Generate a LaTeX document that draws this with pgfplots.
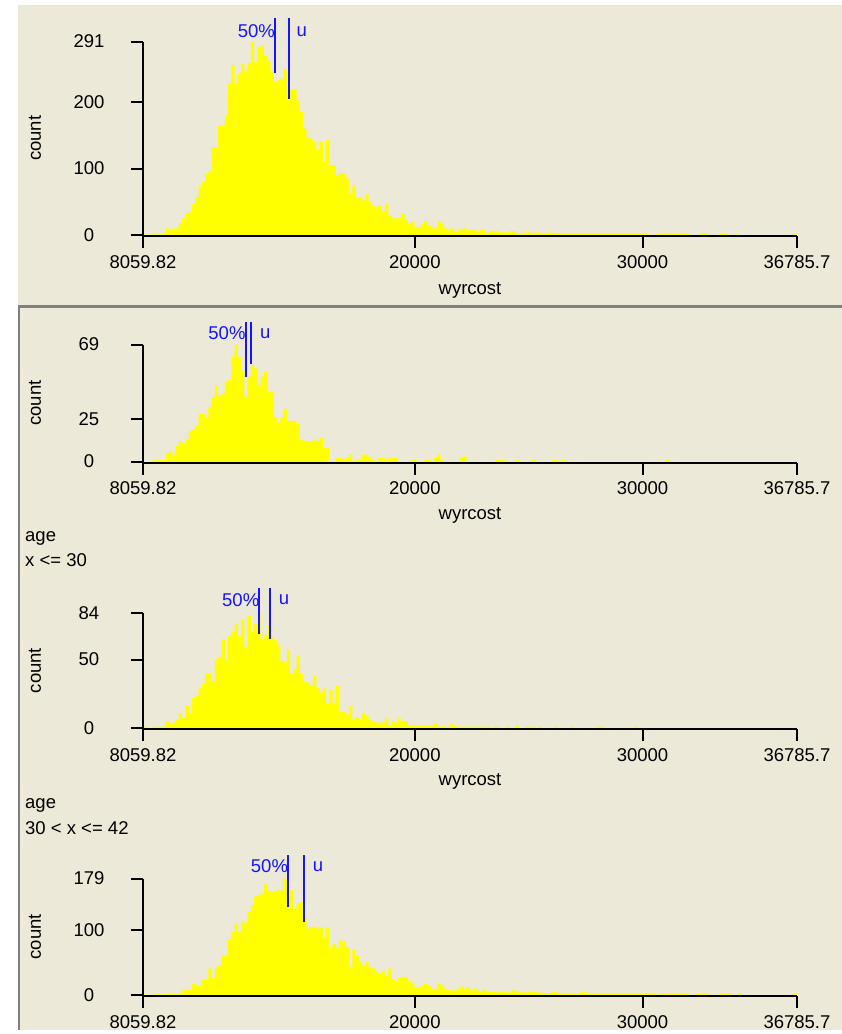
\documentclass[border=0pt]{standalone}
\usepackage{fontspec}
\setmainfont{Liberation Sans}
\usepackage{pgfplots}
\usepackage{pgfplotstable}
\pgfplotsset{compat=1.18}
\definecolor{bg}{RGB}{236,233,216}
\definecolor{sep}{RGB}{128,128,128}
\definecolor{bar}{RGB}{255,255,0}
\definecolor{medblue}{RGB}{20,20,255}
\newcommand{\fs}{\fontsize{18.5}{22}\selectfont}

% bins of width 143.63 from 8059.82 to 36785.7; columns: all (a), first group (b), age<=30 (c), 30<age<=42 (d)
\pgfplotstableread{
i a b c d
0 1 0 1 1
1 0 0 0 0
2 1 0 0 0
3 1 1 1 1
4 1 1 1 2
5 2 1 1 1
6 2 1 1 1
7 10 5 5 2
8 8 6 3 2
9 10 4 4 2
10 10 9 6 2
11 18 12 11 2
12 25 11 7 7
13 33 13 16 8
14 35 18 11 8
15 47 19 22 18
16 57 21 24 14
17 73 28 29 14
18 80 28 32 23
19 92 26 40 23
20 96 32 40 41
21 132 38 34 26
22 132 45 50 43
23 165 39 52 46
24 165 40 65 61
25 180 47 49 61
26 228 48 67 85
27 256 62 70 97
28 227 69 76 110
29 242 61 67 97
30 257 53 79 114
31 247 38 59 111
32 259 50 82 128
33 291 57 70 138
34 260 55 76 151
35 282 45 84 153
36 285 50 65 157
37 270 53 68 170
38 262 41 75 160
39 247 41 67 159
40 230 26 64 159
41 233 23 61 162
42 235 26 49 160
43 250 31 48 179
44 203 24 57 151
45 219 24 40 162
46 219 24 43 133
47 202 22 53 141
48 185 13 40 143
49 160 12 34 120
50 147 12 33 102
51 145 12 31 104
52 140 13 38 105
53 128 12 29 102
54 140 14 26 104
55 110 8 29 88
56 143 8 18 104
57 105 0 28 74
58 105 0 18 78
59 90 2 31 73
60 93 2 12 84
61 92 1 12 82
62 85 2 10 74
63 62 4 16 43
64 75 0 6 70
65 57 1 8 60
66 57 1 6 51
67 52 4 11 46
68 61 4 9 51
69 50 2 6 43
70 45 1 5 41
71 42 0 4 37
72 45 2 4 33
73 35 2 4 37
74 47 1 7 29
75 30 2 2 41
76 25 2 5 23
77 25 2 4 20
78 27 0 7 26
79 32 0 5 28
80 23 0 5 28
81 18 0 2 22
82 21 1 2 18
83 12 1 2 12
84 12 0 2 12
85 17 0 2 14
86 21 1 2 18
87 15 1 2 14
88 12 0 2 9
89 10 2 3 10
90 21 4 1 18
91 17 1 2 15
92 10 0 1 10
93 7 0 1 8
94 10 0 3 7
95 6 0 2 7
96 7 0 1 8
97 8 2 1 13
98 10 3 1 10
99 7 0 1 12
100 8 0 1 7
101 8 0 1 10
102 5 0 1 7
103 8 0 1 5
104 7 0 1 8
105 3 0 1 5
106 6 0 0 5
107 6 0 1 5
108 6 1 1 4
109 4 1 0 5
110 4 1 0 5
111 4 0 1 4
112 6 0 0 4
113 6 0 0 8
114 3 1 2 6
115 3 0 0 4
116 3 0 0 4
117 4 0 1 4
118 4 0 1 5
119 3 1 1 5
120 4 0 0 4
121 3 0 1 4
122 3 0 0 3
123 3 0 0 3
124 4 0 0 3
125 3 1 0 5
126 3 1 1 4
127 3 0 0 3
128 3 1 0 3
129 3 0 0 3
130 3 0 0 3
131 3 0 1 3
132 3 0 0 3
133 3 0 0 3
134 3 0 0 5
135 3 0 0 4
136 3 0 0 3
137 3 0 0 3
138 2 0 0 3
139 3 0 1 3
140 3 0 1 3
141 2 0 0 3
142 3 0 0 3
143 2 0 0 3
144 2 0 0 3
145 3 0 0 3
146 2 0 0 3
147 2 0 0 3
148 3 0 0 3
149 2 0 0 3
150 2 0 1 3
151 3 0 0 3
152 2 0 0 3
153 2 0 0 3
154 2 0 0 3
155 0 0 0 3
156 0 0 0 3
157 2 0 0 0
158 3 0 0 3
159 2 0 0 3
160 2 1 0 3
161 3 0 0 3
162 2 0 0 3
163 2 0 0 3
164 3 0 0 3
165 2 0 0 3
166 2 0 0 3
167 0 0 0 0
168 0 0 0 0
169 0 0 0 3
170 2 0 0 3
171 3 0 0 2
172 2 0 0 3
173 0 0 0 0
174 0 0 0 0
175 0 0 0 0
176 2 0 0 3
177 3 0 0 3
178 2 0 0 3
179 0 0 0 2
180 0 0 0 0
181 2 0 0 0
182 0 0 0 3
183 0 0 0 0
199 3 0 0 3
200 0 0 0 0
}\bins

\pgfplotsset{
  hist/.style={
    scale only axis, width=654pt,
    xmin=0, xmax=200, ymin=0,
    axis x line=bottom, axis y line=left,
    axis x line shift=1pt,
    axis line style={-, line width=2pt, black},
    every tick/.style={line width=2pt, black},
    tick align=outside, major tick length=12pt,
    xtick={0,83.132,152.755,200},
    xticklabels={8059.82,20000,30000,36785.7},
    tick label style={font=\fs},
    xticklabel style={anchor=north, yshift=-4pt},
    yticklabel style={anchor=center, xshift=-42pt},
    /pgf/number format/assume math mode=true,
    label style={font=\fs},
    ylabel={count},
    ylabel style={at={(axis description cs:-0.165,0.5)}, anchor=center},
    axis on top, clip=false,
  },
  bars/.style={const plot, fill=bar, draw=none},
  med/.style={draw=medblue, line width=2pt},
}

\begin{document}
\begin{tikzpicture}
\begin{scope}[x=1pt,y=-1pt]
\fill[white] (0,0) rectangle (842,1034);
\fill[bg] (18,5) rectangle (842,305);
\fill[sep] (18,305) rectangle (842,307.5);
\fill[bg] (18,307.5) rectangle (842,1030);
\fill[sep] (18,307.5) rectangle (20,1030);
\node[anchor=west, inner sep=0, font=\fs] at (25,538) {age};
\node[anchor=west, inner sep=0, font=\fs] at (25,560) {x <= 30};
\node[anchor=west, inner sep=0, font=\fs] at (25,805) {age};
\node[anchor=west, inner sep=0, font=\fs] at (25,828) {30 < x <= 42};
\end{scope}

% all records
\begin{axis}[hist, at={(143pt,-235pt)}, anchor=south west, height=193.5pt,
  ymax=291, ytick={0,100,200,291},
  xlabel={wyrcost}, xlabel style={at={(axis description cs:0.5,-0.284)}, anchor=center}]
\addplot[bars] table[x=i, y=a] {\bins} \closedcycle;
\addplot[med] coordinates {(40.37,326) (40.37,244)};
\addplot[med] coordinates {(44.50,326) (44.50,204.5)};
\node[anchor=east, inner sep=0, text=medblue, font=\fs] at (axis cs:40.37,306) {50\%\hspace{6pt}};
\node[anchor=west, inner sep=0, text=medblue, font=\fs] at (axis cs:44.50,306) {\hspace{8pt}u};
\end{axis}

% first group
\begin{axis}[hist, at={(143pt,-461.5pt)}, anchor=south west, height=117pt,
  ymax=69, ytick={0,25,69},
  xlabel={wyrcost}, xlabel style={at={(axis description cs:0.5,-0.457)}, anchor=center}]
\addplot[bars] table[x=i, y=b] {\bins} \closedcycle;
\addplot[med] coordinates {(31.4,82.3) (31.4,50)};
\addplot[med] coordinates {(33.0,82.3) (33.0,57.3)};
\node[anchor=east, inner sep=0, text=medblue, font=\fs] at (axis cs:31.4,75.5) {50\%\hspace{6pt}};
\node[anchor=west, inner sep=0, text=medblue, font=\fs] at (axis cs:33.0,75.5) {\hspace{9pt}u};
\end{axis}

% age x <= 30
\begin{axis}[hist, at={(143pt,-728pt)}, anchor=south west, height=115pt,
  ymax=84, ytick={0,50,84},
  xlabel={wyrcost}, xlabel style={at={(axis description cs:0.5,-0.461)}, anchor=center}]
\addplot[bars] table[x=i, y=c] {\bins} \closedcycle;
\addplot[med] coordinates {(35.6,102.3) (35.6,68.4)};
\addplot[med] coordinates {(38.7,102.3) (38.7,64.8)};
\node[anchor=east, inner sep=0, text=medblue, font=\fs] at (axis cs:35.6,93.5) {50\%\hspace{6pt}};
\node[anchor=west, inner sep=0, text=medblue, font=\fs] at (axis cs:38.7,93.5) {\hspace{9pt}u};
\end{axis}

% age 30 < x <= 42
\begin{axis}[hist, at={(143pt,-995pt)}, anchor=south west, height=116.5pt,
  ymax=179, ytick={0,100,179}]
\addplot[bars] table[x=i, y=d] {\bins} \closedcycle;
\addplot[med] coordinates {(44.4,215) (44.4,135.7)};
\addplot[med] coordinates {(49.1,215) (49.1,112.6)};
\node[anchor=east, inner sep=0, text=medblue, font=\fs] at (axis cs:44.4,197.5) {50\%\hspace{6pt}};
\node[anchor=west, inner sep=0, text=medblue, font=\fs] at (axis cs:49.1,197.5) {\hspace{9pt}u};
\end{axis}
\end{tikzpicture}
\end{document}
